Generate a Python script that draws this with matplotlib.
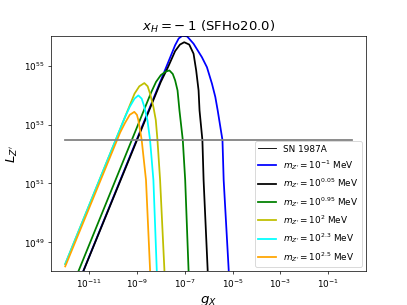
import numpy as np
import matplotlib
matplotlib.use("Agg")
import matplotlib.pyplot as plt
from matplotlib.lines import Line2D
from matplotlib.ticker import NullLocator, FixedLocator

# values, as log10(g_X) and log10(L_Z')
sn_logg = [-12.0, 0.0]
sn_logL = [52.47, 52.47]

blue_logg = [-12.0, -7.4, -7.25, -7.1, -6.9, -6.63, -6.28, -6.07, -5.86, -5.72, -5.62, -5.42, -5.37, -5.16, -5.1]
blue_logL = [46.5, 55.7, 55.93, 56.02, 56.0, 55.75, 55.29, 54.95, 54.39, 53.94, 53.48, 52.47, 51.11, 48.06, 46.0]

black_logg = [-12.0, -8.0, -7.7, -7.4, -7.2, -7.02, -6.81, -6.63, -6.52, -6.42, -6.38, -6.26, -6.21, -6.04, -6.0]
black_logL = [46.5, 54.45, 54.95, 55.5, 55.72, 55.8, 55.72, 55.41, 54.84, 54.16, 53.48, 52.47, 51.11, 48.06, 46.0]

green_logg = [-12.0, -8.4, -8.2, -8.0, -7.8, -7.64, -7.5, -7.4, -7.3, -7.22, -7.08, -6.98, -6.84, -6.8]
green_logL = [46.9, 54.1, 54.45, 54.68, 54.8, 54.84, 54.72, 54.5, 54.16, 53.48, 52.47, 51.11, 48.06, 46.0]

yellow_logg = [-12.0, -9.1, -8.9, -8.69, -8.55, -8.45, -8.31, -8.21, -8.14, -8.03, -7.85, -7.8]
yellow_logL = [48.25, 54.05, 54.3, 54.41, 54.3, 54.05, 53.6, 53.15, 52.47, 51.11, 48.06, 46.0]

cyan_logg = [-12.0, -9.5, -9.3, -9.1, -8.94, -8.8, -8.69, -8.56, -8.45, -8.31, -8.17, -8.12]
cyan_logL = [48.25, 53.25, 53.6, 53.88, 53.99, 53.88, 53.6, 53.15, 52.47, 51.11, 48.06, 46.0]

orange_logg = [-12.0, -9.7, -9.5, -9.3, -9.11, -9.0, -8.94, -8.8, -8.62, -8.45, -8.4]
orange_logL = [48.17, 52.73, 53.05, 53.33, 53.43, 53.33, 53.15, 52.47, 51.11, 48.06, 46.0]

labels = [r"$m_{Z'}=10^{-1}$ MeV", r"$m_{Z'}=10^{0.05}$ MeV", r"$m_{Z'}=10^{0.95}$ MeV",
          r"$m_{Z'}=10^{2}$ MeV", r"$m_{Z'}=10^{2.3}$ MeV", r"$m_{Z'}=10^{2.5}$ MeV"]
colors = ['b', 'k', 'g', 'y', 'cyan', 'orange']
curves = [(blue_logg, blue_logL), (black_logg, black_logL), (green_logg, green_logL),
          (yellow_logg, yellow_logL), (cyan_logg, cyan_logL), (orange_logg, orange_logL)]

xticks = [1e-11, 1e-9, 1e-7, 1e-5, 1e-3, 1e-1]
yticks = [1e49, 1e51, 1e53, 1e55]

fig = plt.figure(figsize=(6.4, 4.8))
ax = fig.add_subplot(111)

handles = [Line2D([], [], color='k', lw=1, label='SN 1987A')]
for (lg, lL), c, lab in zip(curves, colors, labels):
    h, = ax.plot(10**np.array(lg), 10**np.array(lL), color=c, lw=2, label=lab)
    handles.append(h)

ax.plot(10**np.array(sn_logg), 10**np.array(sn_logL), color='gray', lw=2)

ax.set_xscale('log')
ax.set_yscale('log')
ax.set_ylim(1e48, 1e56)
ax.set_xlim(10**-12.6, 10**0.6)
ax.xaxis.set_major_locator(FixedLocator(xticks))
ax.yaxis.set_major_locator(FixedLocator(yticks))
ax.xaxis.set_minor_locator(NullLocator())
ax.yaxis.set_minor_locator(NullLocator())
ax.set_xlabel(r"$g_X$", fontsize=15)
ax.set_ylabel(r"$L_{Z'}$", fontsize=15)
ax.set_title(r"$x_H = -\:1$ (SFHo20.0)", fontsize=15)
ax.legend(handles=handles, loc='lower right')

fig.savefig("out.png", dpi=63.6)
